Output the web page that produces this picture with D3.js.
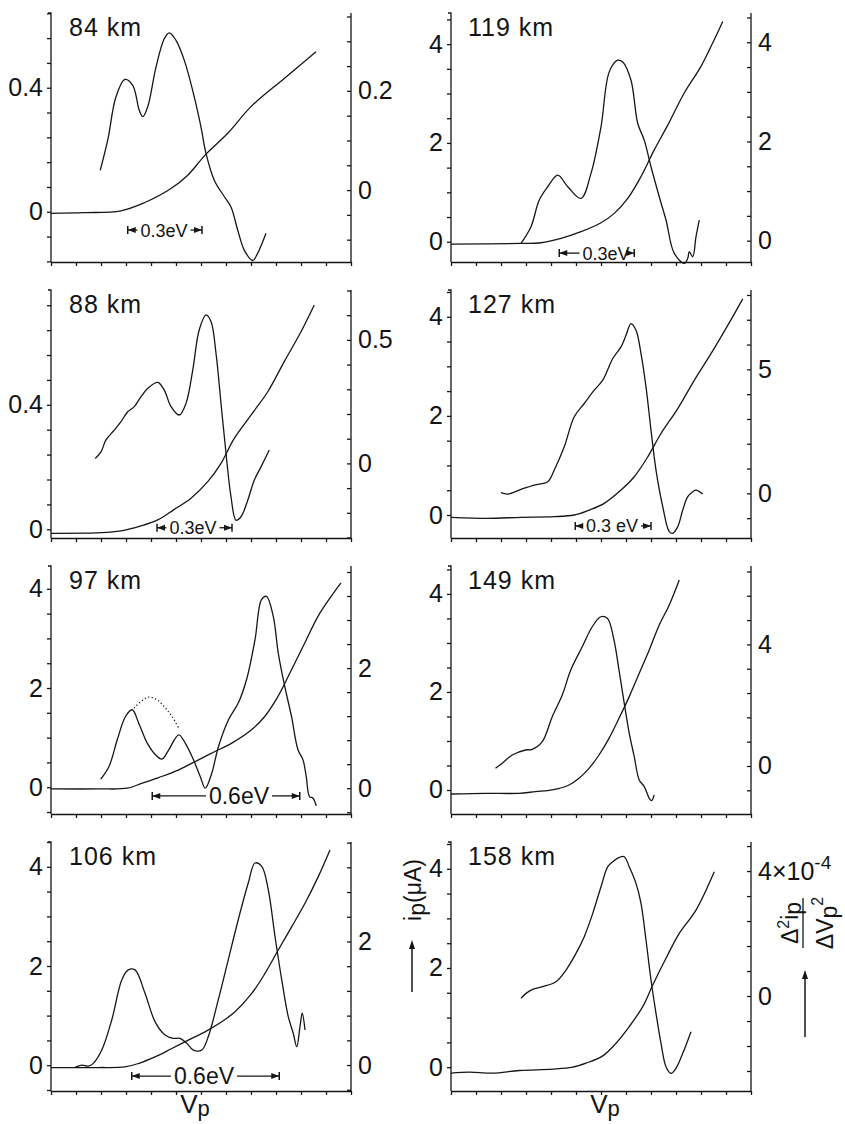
<!DOCTYPE html>
<html>
<head>
<meta charset="utf-8">
<title>Probe characteristics at different altitudes</title>
<script src="https://d3js.org/d3.v7.min.js"></script>
<style>
  body { margin: 0; background: #fff; }
  svg text { font-family: "Liberation Sans Narrow", "Liberation Sans", Arial, sans-serif; fill: #141414; }
  .curve { fill: none; stroke: #161616; stroke-width: 1.3; }
  .axis path, .axis line { stroke: #161616; stroke-width: 1.3; }
</style>
</head>
<body>
<svg width="845" height="1124"></svg>
<script>
// panel order: left column then right column, row by row
const altitudes = ["84 km", "119 km", "88 km", "127 km", "97 km", "149 km", "106 km", "158 km"];

// left axis: probe current ip (µA); right axis: second derivative
const leftDomains  = [[-0.162, 0.641], [-0.41, 4.63], [-0.028, 0.769], [-0.464, 4.54], [-0.54, 4.46], [-0.49, 4.57], [-0.52, 4.5], [-0.48, 4.54]];
const rightDomains = [[-0.145, 0.357], [-0.43, 4.59], [-0.302, 0.702], [-1.8, 8.2], [-0.43, 3.7], [-1.58, 6.58], [-0.42, 3.61], [-3.04, 4.93]];
const leftSteps  = [0.08, 0.5, 0.08, 0.5, 0.5, 0.5, 0.5, 0.5];
const rightSteps = [0.05, 0.5, 0.1, 1, 0.4, 0.8, 0.4, 0.8];
const leftLabels  = [[0, 0.4], [0, 2, 4], [0, 0.4], [0, 2, 4], [0, 2, 4], [0, 2, 4], [0, 2, 4], [0, 2, 4]];
const rightLabels = [[0, 0.2], [0, 2, 4], [0, 0.5], [0, 5], [0, 2], [0, 4], [0, 2], [0, 4]];
const vpTicks = d3.range(0, 13);

// ip curves [Vp tick units, µA]
const cur84 = [[0,-0.005],[1.33,-0.003],[2.8,0.003],[3.73,0.029],[4.8,0.075],[5.47,0.118],[6.2,0.186],[7.07,0.253],[8.0,0.339],[9.33,0.43],[10.6,0.516]];
const cur119 = [[0,-0.047],[2.8,-0.034],[3.6,-0.02],[4.4,0.068],[5.2,0.203],[6.0,0.385],[6.53,0.574],[7.07,0.878],[7.6,1.32],[8.13,1.86],[8.67,2.36],[9.33,3.01],[10.0,3.55],[10.53,4.09],[10.87,4.46]];
const cur88 = [[0,-0.013],[2.0,-0.011],[2.8,-0.005],[3.6,0.011],[4.27,0.03],[4.93,0.064],[5.6,0.1],[6.27,0.153],[6.8,0.212],[7.33,0.292],[8.0,0.367],[8.67,0.442],[9.33,0.539],[10.0,0.635],[10.53,0.721]];
const cur127 = [[0,-0.047],[1.47,-0.067],[2.8,-0.047],[4.13,-0.034],[4.93,0],[5.47,0.087],[6.13,0.235],[6.8,0.503],[7.33,0.772],[7.87,1.174],[8.4,1.644],[9.07,2.148],[9.73,2.718],[10.4,3.255],[11.07,3.826],[11.67,4.362]];
const cur97 = [[0,-0.034],[1.92,-0.034],[3.05,-0.02],[3.65,0.081],[4.31,0.195],[5.11,0.35],[5.9,0.552],[6.56,0.72],[7.23,0.888],[8.02,1.157],[8.55,1.426],[9.08,1.83],[9.62,2.368],[10.15,2.907],[10.68,3.445],[11.21,3.849],[11.6,4.118]];
const cur149 = [[0,-0.082],[1.38,-0.068],[2.71,-0.068],[3.38,-0.034],[4.05,0],[4.72,0.102],[5.12,0.238],[5.52,0.442],[5.92,0.714],[6.32,1.054],[6.72,1.463],[7.13,1.905],[7.53,2.381],[7.93,2.857],[8.33,3.367],[8.73,3.776],[9.13,4.286]];
const cur106 = [[0,-0.047],[1.89,-0.047],[2.96,-0.034],[3.49,0.034],[4.16,0.168],[4.83,0.336],[5.49,0.505],[6.16,0.673],[6.83,0.875],[7.36,1.077],[8.03,1.447],[8.56,1.851],[9.09,2.322],[9.63,2.793],[10.16,3.264],[10.69,3.802],[11.16,4.34]];
const cur158 = [[0,-0.121],[0.73,-0.101],[1.67,-0.121],[2.73,-0.067],[4.07,-0.04],[4.87,0],[5.4,0.081],[6.07,0.228],[6.6,0.483],[7.13,0.819],[7.67,1.221],[8.07,1.658],[8.6,2.195],[9.13,2.698],[9.8,3.168],[10.53,3.94]];

// second-derivative curves [Vp tick units, right-axis units]
const der84 = [[1.97,0.04],[2.27,0.101],[2.6,0.188],[2.96,0.223],[3.27,0.211],[3.53,0.161],[3.67,0.148],[3.87,0.168],[4.2,0.248],[4.53,0.305],[4.73,0.317],[5.0,0.302],[5.33,0.262],[5.73,0.188],[6.0,0.127],[6.2,0.074],[6.53,0.02],[6.93,-0.013],[7.2,-0.034],[7.47,-0.081],[7.73,-0.121],[8.07,-0.142],[8.27,-0.127],[8.6,-0.087]];
const der119 = [[2.8,-0.054],[3.2,0.282],[3.53,0.819],[3.87,1.087],[4.27,1.322],[4.67,1.087],[5.2,0.852],[5.6,1.356],[6.0,2.295],[6.33,3.403],[6.67,3.638],[6.87,3.604],[7.2,3.235],[7.47,2.362],[7.73,2.027],[8.0,1.49],[8.33,0.886],[8.6,0.416],[8.93,-0.255],[9.33,-0.456],[9.47,-0.356],[9.53,-0.221],[9.67,-0.322],[9.8,0.08],[9.93,0.416]];
const der88 = [[1.77,0.02],[2.0,0.047],[2.2,0.095],[2.53,0.135],[2.8,0.169],[3.07,0.209],[3.33,0.23],[3.6,0.27],[3.87,0.304],[4.27,0.328],[4.53,0.297],[4.8,0.23],[5.13,0.196],[5.4,0.243],[5.67,0.378],[5.93,0.541],[6.2,0.601],[6.4,0.574],[6.6,0.446],[6.8,0.243],[7.0,0.041],[7.2,-0.135],[7.4,-0.23],[7.6,-0.216],[7.87,-0.149],[8.13,-0.068],[8.4,-0.014],[8.73,0.054]];
const der127 = [[2.0,0.027],[2.27,-0.027],[2.8,0.161],[3.33,0.336],[3.87,0.47],[4.13,0.94],[4.53,1.879],[4.93,3.087],[5.33,3.624],[5.73,4.16],[6.07,4.563],[6.47,5.436],[6.8,5.906],[7.0,6.376],[7.2,6.846],[7.4,6.577],[7.6,5.638],[7.8,4.295],[8.0,2.55],[8.2,0.94],[8.47,-0.537],[8.73,-1.544],[8.87,-1.611],[9.07,-1.342],[9.27,-0.671],[9.47,-0.134],[9.67,0.067],[9.8,0.134],[10.07,-0.027]];
const der97 = [[1.99,0.15],[2.32,0.361],[2.65,0.806],[2.98,1.194],[3.25,1.306],[3.51,1.083],[3.85,0.75],[4.18,0.556],[4.44,0.483],[4.71,0.639],[5.11,0.889],[5.37,0.75],[5.7,0.472],[5.97,0.194],[6.17,0],[6.43,0.25],[6.7,0.694],[7.1,1.139],[7.49,1.417],[7.82,1.806],[8.16,2.472],[8.42,3.139],[8.62,3.194],[8.89,2.861],[9.09,2.25],[9.35,1.694],[9.62,1.194],[9.88,0.639],[10.08,0.472],[10.21,0.194],[10.34,-0.139],[10.48,-0.167],[10.61,-0.294]];
const dot97 = [[3.32,1.333],[3.65,1.461],[3.91,1.517],[4.24,1.472],[4.58,1.333],[4.84,1.194],[5.11,1.0]];
const der149 = [[1.78,-0.077],[2.05,0.088],[2.45,0.362],[2.98,0.526],[3.25,0.548],[3.65,0.8],[4.05,1.622],[4.45,2.334],[4.79,3.156],[5.25,3.923],[5.65,4.581],[5.99,4.91],[6.26,4.855],[6.52,4.142],[6.72,3.156],[6.93,2.06],[7.13,1.074],[7.33,0.307],[7.53,-0.46],[7.73,-0.679],[7.93,-1.063],[8.02,-1.14],[8.13,-0.953]];
const der106 = [[0.96,-0.038],[1.23,0],[1.49,-0.016],[1.69,0.027],[2.03,0.243],[2.43,0.73],[2.83,1.378],[3.09,1.541],[3.36,1.541],[3.76,1.162],[4.16,0.703],[4.56,0.486],[4.89,0.432],[5.16,0.432],[5.43,0.351],[5.69,0.243],[6.03,0.243],[6.29,0.459],[6.69,1.054],[7.09,1.703],[7.49,2.351],[7.89,2.946],[8.16,3.27],[8.43,3.216],[8.69,2.838],[8.96,2.081],[9.23,1.378],[9.49,0.784],[9.69,0.514],[9.83,0.297],[9.96,0.622],[10.05,0.838],[10.16,0.568]];
const der158 = [[2.8,-0.075],[3.0,0.085],[3.27,0.213],[3.67,0.299],[4.2,0.459],[4.6,0.832],[5.0,1.365],[5.33,1.899],[5.67,2.645],[6.0,3.499],[6.27,4.139],[6.47,4.299],[6.73,4.437],[6.93,4.459],[7.13,4.139],[7.4,3.605],[7.6,2.965],[7.8,1.792],[8.0,0.512],[8.2,-0.555],[8.4,-1.515],[8.6,-2.261],[8.8,-2.475],[9.0,-2.315],[9.27,-1.835],[9.6,-1.141]];

const currents = [cur84, cur119, cur88, cur127, cur97, cur149, cur106, cur158];
const derivs = [der84, der119, der88, der127, der97, der149, der106, der158];

// energy scale bars: [from, to, ip level, text, text centre]
const evMarks = [
  [3.07, 6.04, -0.059, "0.3eV", 4.52],
  [4.33, 7.33, -0.23, "0.3eV", 6.2],
  [4.24, 7.24, 0.005, "0.3eV", 5.68],
  [4.97, 8.0, -0.22, "0.3 eV", 6.44],
  [4.05, 9.95, -0.175, "0.6eV", 7.52],
  null,
  [3.23, 9.13, -0.22, "0.6eV", 6.12],
  null
];

const svg = d3.select("svg");
const colX = [51, 451];
const rowTop = [13, 290, 566, 842];
const rowBot = [262, 538, 814, 1091];
const W = 300;

function tickList(dom, step) {
  const out = [];
  for (let k = Math.ceil(dom[0] / step - 1e-9); k * step <= dom[1] + 1e-9; k++) out.push(+(k * step).toFixed(4));
  return out;
}
function labelFmt(labels) {
  return v => labels.some(l => Math.abs(l - v) < 1e-6) ? d3.format("~g")(v) : "";
}

altitudes.forEach((alt, i) => {
  const x0 = colX[i % 2], top = rowTop[Math.floor(i / 2)], bot = rowBot[Math.floor(i / 2)];
  const x = d3.scaleLinear().domain([0, 12]).range([x0, x0 + W]);
  const yL = d3.scaleLinear().domain(leftDomains[i]).range([bot, top]);
  const yR = d3.scaleLinear().domain(rightDomains[i]).range([bot, top]);
  const g = svg.append("g");

  g.append("g").attr("class", "axis").attr("transform", `translate(0,${bot})`)
    .call(d3.axisBottom(x).tickValues(vpTicks).tickSize(4).tickSizeOuter(0).tickFormat(""));

  const la = g.append("g").attr("class", "axis").attr("transform", `translate(${x0},0)`)
    .call(d3.axisLeft(yL).tickValues(tickList(leftDomains[i], leftSteps[i])).tickSize(4).tickSizeOuter(3)
      .tickPadding(4).tickFormat(labelFmt(leftLabels[i])));
  la.selectAll("text").attr("font-size", 25);

  const ra = g.append("g").attr("class", "axis").attr("transform", `translate(${x0 + W},0)`)
    .call(d3.axisRight(yR).tickValues(tickList(rightDomains[i], rightSteps[i])).tickSize(-4).tickSizeOuter(-3)
      .tickPadding(7).tickFormat(labelFmt(rightLabels[i])));
  ra.selectAll("text").attr("font-size", 25);
  ra.selectAll("path.domain").remove();
  g.append("line").attr("x1", x0 + W).attr("x2", x0 + W).attr("y1", top).attr("y2", bot)
    .attr("stroke", "#161616").attr("stroke-width", 1.3);
  la.selectAll(".domain").attr("d", `M-3,${top}H0V${bot}`);

  if (i === 7) {
    ra.selectAll(".tick text").filter(d => Math.abs(d - 4) < 1e-6)
      .text("4×10").append("tspan").attr("dy", -11).attr("font-size", 19).text("-4");
  }

  g.append("text").attr("x", x0 + (i % 2 ? 17 : 18)).attr("y", top + 23)
    .attr("font-size", 25).attr("letter-spacing", 1).text(alt);

  const lineL = d3.line().x(d => x(d[0])).y(d => yL(d[1])).curve(d3.curveCatmullRom);
  const lineR = d3.line().x(d => x(d[0])).y(d => yR(d[1])).curve(d3.curveCatmullRom);
  g.append("path").attr("class", "curve").attr("d", lineL(currents[i]));
  g.append("path").attr("class", "curve").attr("d", lineR(derivs[i]));
  if (i === 4) {
    g.append("path").attr("class", "curve").attr("stroke-dasharray", "1.2,2.4").attr("d", lineR(dot97));
  }

  const m = evMarks[i];
  if (m) {
    const a = x(m[0]), b = x(m[1]), yy = yL(m[2]), big = m[3] === "0.6eV";
    const t = g.append("text").attr("x", x(m[4])).attr("y", yy).attr("dy", "0.36em")
      .attr("text-anchor", "middle").attr("font-size", big ? 23 : 18).text(m[3]);
    const tw = t.node().getComputedTextLength();
    const ts = x(m[4]) - tw / 2 - 3, te = x(m[4]) + tw / 2 + 3;
    g.append("line").attr("x1", a).attr("x2", ts).attr("y1", yy).attr("y2", yy).attr("stroke", "#161616").attr("stroke-width", 1.3);
    g.append("line").attr("x1", te).attr("x2", b).attr("y1", yy).attr("y2", yy).attr("stroke", "#161616").attr("stroke-width", 1.3);
    [a, b].forEach((p, k) => {
      g.append("line").attr("x1", p).attr("x2", p).attr("y1", yy - 4).attr("y2", yy + 4).attr("stroke", "#161616").attr("stroke-width", 1.5);
      const s = k ? -1 : 1;
      g.append("path").attr("fill", "#161616")
        .attr("d", `M${p},${yy}L${p + 8 * s},${yy - 3}L${p + 8 * s},${yy + 3}Z`);
    });
  }
});

// shared axis names
function vpLabel(cx) {
  const t = svg.append("text").attr("x", cx).attr("y", 1113).attr("font-size", 26).attr("text-anchor", "middle");
  t.append("tspan").text("V");
  t.append("tspan").attr("dy", 3).attr("font-size", 22).text("p");
}
vpLabel(195);
vpLabel(605);

const ip = svg.append("text").attr("transform", "translate(421,890) rotate(-90)")
  .attr("text-anchor", "middle").attr("font-size", 23);
ip.append("tspan").text("i");
ip.append("tspan").attr("dy", 4).text("p");
ip.append("tspan").attr("dy", -4).text("(μA)");

function upArrow(ax, y1, y2) {
  svg.append("line").attr("x1", ax).attr("x2", ax).attr("y1", y1).attr("y2", y2 + 6)
    .attr("stroke", "#161616").attr("stroke-width", 1.5);
  svg.append("path").attr("fill", "#161616").attr("d", `M${ax},${y2}L${ax - 3},${y2 + 9}L${ax + 3},${y2 + 9}Z`);
}
upArrow(412, 992, 940);
upArrow(805, 1037, 970);

const fr = svg.append("g").attr("transform", "translate(803,923) rotate(-90)");
fr.append("line").attr("x1", -25).attr("x2", 25).attr("stroke", "#161616").attr("stroke-width", 1.3);
const num = fr.append("text").attr("y", -5).attr("text-anchor", "middle").attr("font-size", 23);
num.append("tspan").text("Δ");
num.append("tspan").attr("dy", -9).attr("font-size", 16).text("2");
num.append("tspan").attr("dy", 9).text("i");
num.append("tspan").attr("dy", 3).text("p");
const den = fr.append("text").attr("y", 30).attr("text-anchor", "middle").attr("font-size", 23);
den.append("tspan").text("ΔV");
den.append("tspan").attr("dy", 4).text("p");
den.append("tspan").attr("dy", -14).attr("font-size", 16).text("2");
</script>
</body>
</html>
